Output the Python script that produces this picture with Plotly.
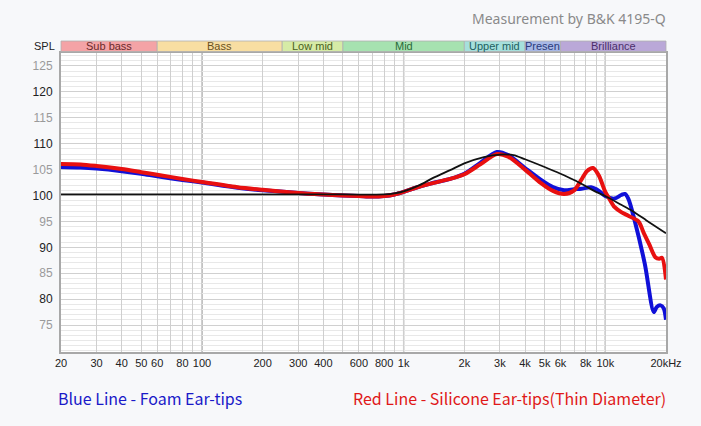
import math
import plotly.graph_objects as go

# ---------------- data ----------------
red_freq = [20, 25, 30, 40, 50, 60, 80, 100, 150, 200, 300, 400, 500, 600, 700, 800, 900,
            1000, 1150, 1360, 1700, 2000, 2400, 2900, 3300, 4000, 4800, 5500, 6250,
            7000, 7600, 8100, 8700, 9300, 10000, 10500, 11100, 12000, 13000, 14600,
            15500, 16500, 17700, 18500, 19100, 20000]
red_db = [106.1, 106.0, 105.7, 105.1, 104.5, 104.0, 103.2, 102.6, 101.6, 101.1, 100.5, 100.2,
          100.0, 99.9, 99.8, 99.9, 100.2, 100.7, 101.5, 102.3, 103.2, 104.1, 106.0,
          108.0, 107.5, 105.0, 102.4, 100.9, 100.3, 101.0, 103.0, 104.7, 105.3, 103.8,
          100.7, 99.3, 97.8, 96.8, 96.1, 95.0, 92.8, 90.6, 88.1, 87.8, 88.0, 83.8]

blue_freq = [20, 25, 30, 40, 50, 60, 80, 100, 150, 200, 300, 400, 500, 600, 700, 800, 900,
             1000, 1150, 1360, 1700, 2000, 2400, 2900, 3300, 4000, 4800, 5500, 6250,
             7000, 7600, 8500, 9300, 10000, 11100, 12000, 12500, 13000, 14000, 15700,
             17400, 18000, 18800, 19500, 20000]
blue_db = [105.5, 105.4, 105.2, 104.7, 104.2, 103.7, 103.0, 102.5, 101.5, 101.0, 100.5, 100.2,
           100.0, 99.9, 99.8, 99.9, 100.2, 100.7, 101.5, 102.3, 103.2, 104.2, 106.3,
           108.4, 107.8, 105.3, 103.0, 101.6, 101.0, 101.2, 101.3, 101.6, 100.9, 99.9,
           99.4, 100.1, 100.3, 99.4, 95.1, 86.8, 77.5, 78.5, 78.8, 78.2, 76.0]

target_freq = [20, 100, 500, 800, 900, 1000, 1200, 1400, 1700, 2000, 2500, 3000, 3500,
               4000, 5000, 6000, 7000, 8000, 9000, 10000, 12000, 13500, 16000, 20000]
target_db = [100.2, 100.2, 100.2, 100.2, 100.4, 100.8, 102.0, 103.4, 104.9, 106.2, 107.4,
             107.9, 107.8, 107.0, 105.5, 104.2, 103.0, 101.8, 100.7, 99.9, 98.2, 97.1,
             95.2, 92.7]

band_names = ["Sub bass", "Bass", "Low mid", "Mid", "Upper mid", "Presen", "Brilliance"]
band_edges = [20, 60, 250, 500, 2000, 4000, 6000, 20000]
band_fill = ["#f4a3a6", "#f8dea2", "#d6eba6", "#a6e2b0", "#a6e0dc", "#a8b8e6", "#baa8d8"]
band_text = ["#6a2a2a", "#6a5020", "#4a6020", "#2a6a3a", "#1f5f5f", "#2a3a7a", "#4a2f6a"]

x_tick_vals = [20, 30, 40, 50, 60, 70, 80, 90, 100, 200, 300, 400, 500, 600, 700, 800,
               900, 1000, 2000, 3000, 4000, 5000, 6000, 7000, 8000, 9000, 10000, 20000]
x_tick_text = ["20", "30", "40", "50", "60", "", "80", "", "100", "200", "300", "400", "",
               "600", "", "800", "", "1k", "2k", "3k", "4k", "5k", "6k", "", "8k", "",
               "10k", "20kHz"]
dark_grid_freqs = [100, 1000, 10000]

y_tick_vals = [75, 80, 85, 90, 95, 100, 105, 110, 115, 120, 125]

F_MIN, F_MAX = 20, 20000
Y_MIN, Y_MAX = 69.8, 127.5


def xfrac(f):
    return (math.log10(f) - math.log10(F_MIN)) / (math.log10(F_MAX) - math.log10(F_MIN))


fig = go.Figure()

fig.add_trace(go.Scatter(x=blue_freq, y=blue_db, mode="lines",
                         line=dict(color="#1010d8", width=4, shape="spline", smoothing=0.8),
                         hoverinfo="skip", showlegend=False))
fig.add_trace(go.Scatter(x=red_freq, y=red_db, mode="lines",
                         line=dict(color="#e81010", width=4, shape="spline", smoothing=0.8),
                         hoverinfo="skip", showlegend=False))
fig.add_trace(go.Scatter(x=target_freq, y=target_db, mode="lines",
                         line=dict(color="#111111", width=1.8, shape="spline", smoothing=0.8),
                         hoverinfo="skip", showlegend=False))

shapes = []
annotations = []

# darker decade grid lines
for f in dark_grid_freqs:
    shapes.append(dict(type="line", xref="paper", yref="paper", x0=xfrac(f), x1=xfrac(f),
                       y0=0, y1=1, line=dict(color="#9a9a9a", width=1.3), layer="between"))

# band bar
PLOT_H = 299
by0 = 1 + 1.5 / PLOT_H
by1 = 1 + 12 / PLOT_H
for name, a, b, fc, tc in zip(band_names, band_edges[:-1], band_edges[1:], band_fill, band_text):
    shapes.append(dict(type="rect", xref="paper", yref="paper", x0=xfrac(a), x1=xfrac(b),
                       y0=by0, y1=by1, fillcolor=fc, line=dict(color="#b0b0b0", width=0.8),
                       layer="above"))
    annotations.append(dict(xref="paper", yref="paper", x=(xfrac(a) + xfrac(b)) / 2,
                            y=(by0 + by1) / 2, text=name, showarrow=False,
                            xanchor="center", yanchor="middle",
                            font=dict(family="Liberation Sans, Arial", size=11, color=tc)))

annotations.append(dict(xref="paper", yref="paper", x=0, y=(by0 + by1) / 2, xanchor="right",
                        yanchor="middle", xshift=-4, text="SPL", showarrow=False,
                        font=dict(family="Liberation Sans, Arial", size=11, color="#222")))

annotations.append(dict(xref="paper", yref="paper", x=1, y=1, xanchor="right",
                        yanchor="middle", yshift=35, xshift=2, text="Measurement by B&K 4195-Q",
                        showarrow=False,
                        font=dict(family="Noto Sans, Open Sans", size=14, color="#8a8a8a")))

annotations.append(dict(xref="paper", yref="paper", x=0, y=0, xanchor="left",
                        yanchor="middle", yshift=-46, xshift=-5,
                        text="Blue Line - Foam Ear-tips", showarrow=False,
                        font=dict(family="Noto Sans CJK SC, Noto Sans", size=16, color="#1a1ac8")))
annotations.append(dict(xref="paper", yref="paper", x=1, y=0, xanchor="right",
                        yanchor="middle", yshift=-46, xshift=2,
                        text="Red Line - Silicone Ear-tips(Thin Diameter)", showarrow=False,
                        font=dict(family="Noto Sans CJK SC, Noto Sans", size=16, color="#e01818")))

y_tick_text = []
for v in y_tick_vals:
    col = "#222222" if v % 10 == 0 else "#9a9a9a"
    y_tick_text.append(f"<span style='color:{col}'>{v}</span>")

fig.update_layout(
    width=701, height=426,
    margin=dict(l=61, r=35, t=53, b=74),
    paper_bgcolor="#f7f8fa",
    plot_bgcolor="#ffffff",
    shapes=shapes,
    annotations=annotations,
    showlegend=False,
    xaxis=dict(type="log", range=[math.log10(F_MIN), math.log10(F_MAX)],
               tickmode="array", tickvals=x_tick_vals, ticktext=x_tick_text,
               showgrid=True, gridcolor="#cfcfcf", gridwidth=1,
               showline=True, linecolor="#a8a8a8", linewidth=2, mirror=True,
               ticks="", zeroline=False,
               tickfont=dict(family="Liberation Sans, Arial", size=11, color="#222")),
    yaxis=dict(range=[Y_MIN, Y_MAX], tickmode="array", tickvals=y_tick_vals,
               ticktext=y_tick_text, showgrid=True, gridcolor="#d0d0d0", gridwidth=1,
               minor=dict(dtick=1, tick0=0, showgrid=True, gridcolor="#e8e8e8", gridwidth=1),
               showline=True, linecolor="#a8a8a8", linewidth=2, mirror=True,
               ticks="", zeroline=False, ticklabelstandoff=4,
               tickfont=dict(family="Liberation Sans, Arial", size=12, color="#222")),
)

fig.write_html("out.html")
